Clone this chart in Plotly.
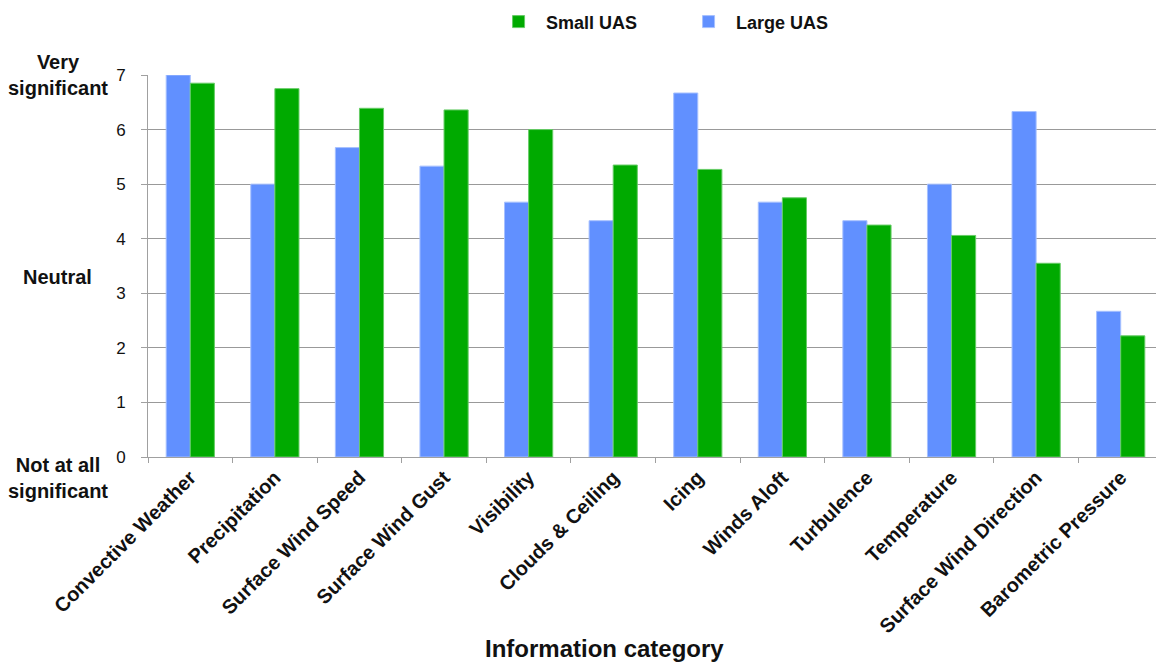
import plotly.graph_objects as go

categories = ["Convective Weather", "Precipitation", "Surface Wind Speed", "Surface Wind Gust",
              "Visibility", "Clouds & Ceiling", "Icing", "Winds Aloft", "Turbulence",
              "Temperature", "Surface Wind Direction", "Barometric Pressure"]
large_uas = [7.0, 5.0, 5.67, 5.33, 4.67, 4.33, 6.67, 4.67, 4.33, 5.0, 6.33, 2.67]
small_uas = [6.85, 6.75, 6.39, 6.36, 6.0, 5.35, 5.27, 4.75, 4.25, 4.06, 3.55, 2.22]
y_ticks = [0, 1, 2, 3, 4, 5, 6, 7]
y_max = 7
scale_labels = [("Very<br>significant", 7.0), ("Neutral", 3.3), ("Not at all<br>significant", -0.38)]

FONT = "Liberation Sans, Arial, sans-serif"

fig = go.Figure()
fig.add_trace(go.Bar(x=categories, y=large_uas, name="Large UAS",
                     marker=dict(color="#6190FF", line=dict(color="#A6C0FF", width=1))))
fig.add_trace(go.Bar(x=categories, y=small_uas, name="Small UAS",
                     marker=dict(color="#00AA00", line=dict(color="#66CC66", width=1))))

for text, yv in scale_labels:
    fig.add_annotation(text=f"<b>{text}</b>", x=-0.0887, y=yv / y_max, xref="paper", yref="paper",
                       showarrow=False, xanchor="center", yanchor="middle",
                       font=dict(family=FONT, size=20, color="#111"))

fig.add_annotation(text="<b>Information category</b>", x=0.45, y=-0.5, xref="paper", yref="paper",
                   showarrow=False, xanchor="center", yanchor="middle",
                   font=dict(family=FONT, size=24, color="#111"))

fig.update_layout(
    width=1164, height=662,
    margin=dict(l=140, r=9, t=67, b=213, autoexpand=False),
    paper_bgcolor="white", plot_bgcolor="white",
    barmode="group", bargap=0.43, bargroupgap=0,
    font=dict(family=FONT, color="#111"),
    legend=dict(orientation="h", x=0.338, y=0.979, xanchor="left", yanchor="middle",
                yref="container",
                traceorder="reversed", font=dict(family=FONT, size=18, weight="bold"),
                itemwidth=45, entrywidth=130),
    showlegend=True,
)
fig.update_xaxes(tickangle=-45, tickfont=dict(family=FONT, size=20, weight="bold", color="#111"),
                 showline=True, linecolor="#A0A0A0", linewidth=1, automargin=False,
                 ticks="outside", ticklen=5, tickcolor="#A0A0A0", tickson="boundaries",
                 showgrid=False)
fig.update_yaxes(range=[0, y_max], tickvals=y_ticks, tickfont=dict(family=FONT, size=17, color="#111"),
                 showline=True, linecolor="#A0A0A0", linewidth=1, automargin=False,
                 gridcolor="#999999", gridwidth=1, zeroline=False,
                 ticks="outside", ticklen=6, tickcolor="#A0A0A0", ticklabelstandoff=12)

fig.write_html("out.html")
